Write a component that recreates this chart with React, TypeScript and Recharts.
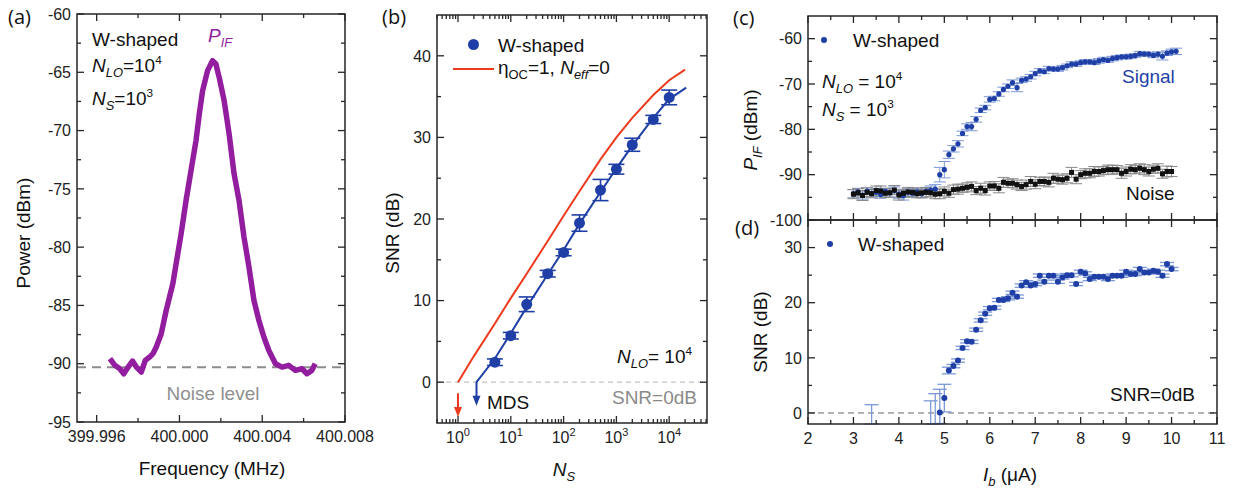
import React from "react";
import { ComposedChart, Line, Scatter, XAxis, YAxis, ErrorBar, ReferenceLine } from "recharts";

// (a) IF spectrum
const aFreq = [399.99664, 399.99688, 399.99712, 399.99731, 399.99752, 399.99773, 399.99792, 399.99816, 399.99835, 399.99856, 399.99872, 399.99888, 399.99912, 399.99936, 399.99968, 399.99984, 400.00008, 400.00032, 400.00056, 400.0008, 400.00096, 400.00112, 400.00136, 400.0016, 400.00176, 400.00192, 400.00216, 400.0024, 400.00264, 400.00288, 400.00312, 400.00336, 400.0036, 400.00384, 400.00408, 400.00432, 400.00464, 400.00496, 400.00528, 400.0056, 400.00592, 400.00616, 400.0064, 400.00656];
const aPower = [-89.57, -90.14, -90.43, -90.86, -90.29, -89.77, -90.29, -90.71, -89.71, -89.43, -89.14, -88.57, -87.43, -85.43, -83.14, -81.43, -78.86, -76.0, -73.43, -70.86, -68.57, -66.57, -64.86, -64.0, -64.29, -65.43, -67.43, -70.29, -73.71, -76.0, -79.14, -81.71, -84.57, -86.29, -87.71, -88.86, -90.0, -90.29, -90.14, -90.57, -90.43, -90.86, -90.57, -90.0];
const aNoiseLevel = -90.3;
const aFreqTicks = [399.996, 399.998, 400.0, 400.002, 400.004, 400.006, 400.008];
const aPowerTicks = [-95, -92.5, -90, -87.5, -85, -82.5, -80, -77.5, -75, -72.5, -70, -67.5, -65, -62.5, -60];

// (b) SNR vs N_S
const bNs = [5, 10, 20, 50, 100, 200, 500, 1000, 2000, 5000, 10000];
const bSnr = [2.45, 5.7, 9.55, 13.3, 15.9, 19.5, 23.55, 26.1, 29.1, 32.2, 34.9];
const bErr = [0.4, 0.4, 0.9, 0.4, 0.4, 1.0, 1.3, 0.6, 0.8, 0.5, 0.9];
const bFitN = [2.24, 2.24, 5, 10, 20, 50, 100, 200, 500, 1000, 2000, 5000, 10000, 21000];
const bFitSnr = [-2.2, 0, 2.9, 6.0, 9.2, 13.2, 16.2, 19.4, 23.3, 26.2, 29.0, 32.4, 34.7, 36.1];
const bIdealN = [1, 2, 5, 10, 20, 50, 100, 200, 500, 1000, 2000, 5000, 10000, 20000];
const bIdealSnr = [0, 3.2, 7.2, 10.3, 13.3, 17.3, 20.4, 23.4, 27.3, 30.0, 32.4, 35.2, 37.0, 38.3];
const bRedArrowN = [1, 1];
const bRedArrowSnr = [-1.35, -3.4];
const bRedTip = { x: 1, y: -4.25 };
const bBlueTip = { x: 2.24, y: -2.9 };
const bSnrTicks = [0, 5, 10, 15, 20, 25, 30, 35, 40];

// (c) P_IF vs I_b
const cIb = [3.0, 3.1, 3.2, 3.3, 3.4, 3.5, 3.6, 3.7, 3.8, 3.9, 4.0, 4.1, 4.2, 4.3, 4.4, 4.5, 4.6, 4.7, 4.8, 4.9, 5.0, 5.1, 5.2, 5.3, 5.4, 5.5, 5.6, 5.7, 5.8, 5.9, 6.0, 6.1, 6.2, 6.3, 6.4, 6.5, 6.6, 6.7, 6.8, 6.9, 7.0, 7.1, 7.2, 7.3, 7.4, 7.5, 7.6, 7.7, 7.8, 7.9, 8.0, 8.1, 8.2, 8.3, 8.4, 8.5, 8.6, 8.7, 8.8, 8.9, 9.0, 9.1, 9.2, 9.3, 9.4, 9.5, 9.6, 9.7, 9.8, 9.9, 10.0, 10.1];
const cSignal = [-94.2, -93.8, -94.5, -93.6, -94.1, -93.9, -94.4, -93.7, -94.0, -93.5, -94.3, -94.6, -93.9, -94.1, -93.8, -94.2, -93.6, -93.4, -93.2, -90.0, -88.9, -85.6, -84.3, -83.2, -80.9, -79.4, -79.4, -77.8, -75.8, -75.2, -73.4, -73.2, -72.2, -71.2, -70.5, -69.7, -70.8, -69.2, -68.9, -68.4, -67.7, -67.1, -67.3, -66.6, -66.7, -66.7, -66.4, -66.0, -65.6, -65.6, -65.3, -65.1, -65.1, -65.3, -64.9, -64.6, -64.8, -64.4, -64.2, -64.0, -64.0, -63.9, -63.7, -63.3, -63.4, -63.4, -63.7, -63.4, -63.9, -63.2, -62.9, -62.8];
const cSignalErr = [0.9, 0.8, 0.9, 0.7, 0.8, 0.9, 0.8, 0.7, 0.9, 0.8, 0.9, 1.0, 0.8, 0.9, 0.8, 0.9, 0.8, 0.9, 1.0, 1.6, 1.8, 0.8, 0.7, 0.7, 0.5, 0.6, 0.9, 0.6, 0.5, 0.5, 0.6, 0.5, 0.5, 0.5, 0.5, 0.6, 0.9, 0.5, 0.5, 0.5, 0.5, 0.5, 0.4, 0.5, 0.4, 0.5, 0.5, 0.4, 0.5, 0.5, 0.4, 0.5, 0.5, 0.4, 0.5, 0.5, 0.4, 0.5, 0.5, 0.4, 0.5, 0.5, 0.4, 0.5, 0.5, 0.4, 0.5, 0.5, 0.8, 0.5, 0.6, 0.7];
const cNoise = [-94.3, -94.0, -94.6, -93.9, -94.2, -93.5, -93.6, -94.1, -94.0, -93.4, -94.5, -94.1, -93.8, -93.9, -94.2, -94.0, -93.9, -94.0, -94.3, -94.2, -93.7, -94.1, -93.3, -93.2, -93.0, -92.8, -92.6, -93.5, -93.0, -93.5, -92.5, -92.5, -93.0, -91.7, -91.9, -91.9, -92.2, -92.6, -92.2, -91.5, -92.1, -91.5, -91.5, -91.7, -90.8, -91.0, -91.1, -90.8, -89.5, -91.0, -90.0, -89.7, -89.7, -89.3, -89.3, -89.1, -88.9, -88.9, -88.9, -89.7, -89.3, -88.8, -88.9, -88.6, -88.9, -89.3, -88.8, -88.6, -89.8, -89.3, -89.3];
const cNoiseErr = [1.0, 0.9, 1.1, 1.0, 0.9, 1.0, 1.1, 0.9, 1.0, 1.0, 1.1, 0.9, 1.0, 1.0, 0.9, 1.1, 1.0, 0.9, 1.0, 1.1, 1.0, 0.9, 1.0, 1.1, 0.9, 1.0, 1.0, 0.9, 1.1, 1.0, 0.9, 1.0, 1.0, 1.1, 0.9, 1.0, 1.0, 0.9, 1.0, 1.1, 1.0, 0.9, 1.0, 1.0, 1.1, 0.9, 1.0, 1.0, 1.1, 1.0, 0.9, 1.0, 1.0, 1.1, 1.0, 0.9, 1.0, 1.0, 0.9, 1.1, 1.0, 1.0, 0.9, 1.0, 1.1, 1.0, 0.9, 1.0, 1.0, 1.2, 1.1];
const cPowerTicks = [-100, -95, -90, -85, -80, -75, -70, -65, -60];

// (d) SNR vs I_b  (first three points are off scale: only their upper whiskers show)
const dIb = [3.4, 4.7, 4.8, 4.9, 5.0, 5.1, 5.2, 5.3, 5.4, 5.5, 5.6, 5.7, 5.8, 5.9, 6.0, 6.1, 6.2, 6.3, 6.4, 6.5, 6.6, 6.7, 6.8, 6.9, 7.0, 7.1, 7.2, 7.3, 7.4, 7.5, 7.6, 7.7, 7.8, 7.9, 8.0, 8.1, 8.2, 8.3, 8.4, 8.5, 8.6, 8.7, 8.8, 8.9, 9.0, 9.1, 9.2, 9.3, 9.4, 9.5, 9.6, 9.7, 9.8, 9.9, 10.0];
const dSnr = [-2, -2, -2, 0.1, 2.7, 7.7, 8.5, 9.5, 11.8, 13.0, 12.9, 15.1, 16.8, 18.0, 19.0, 19.1, 20.5, 20.5, 20.8, 21.8, 21.1, 23.1, 23.7, 23.1, 23.4, 24.9, 23.8, 24.9, 24.9, 23.8, 24.6, 25.0, 25.0, 23.4, 25.6, 25.3, 24.3, 24.7, 24.7, 24.7, 24.3, 24.9, 24.9, 24.9, 25.6, 25.2, 25.2, 26.1, 25.5, 25.5, 25.8, 25.6, 24.9, 27.0, 26.1];
const dErrLow = [0, 0, 0, 2.0, 2.5, 0.6, 0.3, 0.3, 0.3, 0.3, 0.3, 0.3, 0.3, 0.3, 0.3, 0.3, 0.3, 0.3, 0.3, 0.3, 0.3, 0.3, 0.3, 0.3, 0.3, 0.3, 0.3, 0.3, 0.3, 0.3, 0.3, 0.3, 0.3, 0.3, 0.3, 0.3, 0.3, 0.3, 0.3, 0.3, 0.3, 0.3, 0.3, 0.3, 0.3, 0.3, 0.3, 0.3, 0.3, 0.3, 0.3, 0.3, 0.3, 0.3, 0.3];
const dErrHigh = [3.5, 4.2, 5.5, 4.2, 2.5, 0.6, 0.3, 0.3, 0.3, 0.3, 0.3, 0.3, 0.3, 0.3, 0.3, 0.3, 0.3, 0.3, 0.3, 0.3, 0.3, 0.3, 0.3, 0.3, 0.3, 0.3, 0.3, 0.3, 0.3, 0.3, 0.3, 0.3, 0.3, 0.3, 0.3, 0.3, 0.3, 0.3, 0.3, 0.3, 0.3, 0.3, 0.3, 0.3, 0.3, 0.3, 0.3, 0.3, 0.3, 0.3, 0.3, 0.3, 0.3, 0.3, 0.3];
const dSnrTicks = [0, 5, 10, 15, 20, 25, 30];
const ibTicks = [2, 2.5, 3, 3.5, 4, 4.5, 5, 5.5, 6, 6.5, 7, 7.5, 8, 8.5, 9, 9.5, 10, 10.5, 11];

const zip = (xs: number[], ys: number[], es?: any[]) =>
  xs.map((x, i) => ({ x, y: ys[i], e: es ? es[i] : 0 }));

const logTicks: number[] = [];
[0.1, 1, 10, 100, 1000, 10000].forEach((d) => {
  for (let k = 1; k <= 9; k++) {
    const v = +(d * k).toPrecision(3);
    if (v >= 0.4 && v <= 52000) logTicks.push(v);
  }
});

const FRAME = "#262626";
const PURPLE = "#921e9f";
const BLUE = "#1f3fa6";
const RED = "#ee3a1c";
const TICK_FONT = "'Liberation Sans', Arial, sans-serif";
const GAP = 6;

const ids = { xAxisId: "b", yAxisId: "l" };
const nearMult = (v: number, m: number) => Math.abs(v / m - Math.round(v / m)) < 1e-6;

type Dom = [number, number];
type FrameCfg = { xDomain: Dom; xTicks: number[]; yDomain: Dom; yTicks: number[]; xMajor: (v: number) => boolean; yMajor: (v: number) => boolean };

function labelTick(side: "left" | "bottom", isMajor: (v: number) => boolean, label?: (v: number) => React.ReactNode) {
  return (p: any) => {
    const { x, y, payload } = p;
    const v = payload.value;
    if (!label || !isMajor(v)) return <g />;
    if (side === "left")
      return <text x={x} y={y} dy="0.36em" textAnchor="end" fontSize={16} fill="#222" fontFamily={TICK_FONT}>{label(v)}</text>;
    return <text x={x} y={y + 14} textAnchor="middle" fontSize={16} fill="#222" fontFamily={TICK_FONT}>{label(v)}</text>;
  };
}

function renderAxes(o: FrameCfg & { xLabel?: (v: number) => React.ReactNode; yLabel: (v: number) => React.ReactNode; log?: boolean; bottomHeight: number }) {
  const common = { type: "number" as const, interval: 0 as const, tickSize: 0, tickMargin: GAP, axisLine: false, tickLine: false };
  return [
    <XAxis key="xb" xAxisId="b" orientation="bottom" dataKey="x" height={o.bottomHeight} domain={o.xDomain} ticks={o.xTicks} scale={o.log ? "log" : "linear"} tick={labelTick("bottom", o.xMajor, o.xLabel)} {...common} />,
    <YAxis key="yl" yAxisId="l" orientation="left" dataKey="y" width={60} domain={o.yDomain} ticks={o.yTicks} tick={labelTick("left", o.yMajor, o.yLabel)} {...common} />,
  ];
}

// inward tick marks drawn as little symbols sitting on the frame edges
const TickMark = (p: any) => {
  const d = p.payload ?? p;
  const len = d.len as number;
  const { cx, cy } = p;
  let x2 = cx, y2 = cy;
  if (d.dir === "up") y2 = cy - len;
  else if (d.dir === "down") y2 = cy + len;
  else if (d.dir === "right") x2 = cx + len;
  else x2 = cx - len;
  return <line x1={cx} y1={cy} x2={x2} y2={y2} stroke={FRAME} strokeWidth={1.3} />;
};

function renderFrame(o: FrameCfg) {
  const [x0, x1] = o.xDomain;
  const [y0, y1] = o.yDomain;
  const marks: any[] = [];
  o.xTicks.forEach((v) => {
    const len = o.xMajor(v) ? 7 : 4;
    marks.push({ x: v, y: y0, dir: "up", len }, { x: v, y: y1, dir: "down", len });
  });
  o.yTicks.forEach((v) => {
    const len = o.yMajor(v) ? 7 : 4;
    marks.push({ x: x0, y: v, dir: "right", len }, { x: x1, y: v, dir: "left", len });
  });
  const box = [{ x: x0, y: y0 }, { x: x1, y: y0 }, { x: x1, y: y1 }, { x: x0, y: y1 }, { x: x0, y: y0 }];
  return [
    <Line key="frame" {...ids} data={box} dataKey="y" type="linear" stroke={FRAME} strokeWidth={1.5} strokeLinecap="square" dot={false} isAnimationActive={false} />,
    <Scatter key="marks" {...ids} data={marks} dataKey="y" shape={TickMark} isAnimationActive={false} />,
  ];
}

const sub: React.CSSProperties = { fontSize: "0.68em", verticalAlign: "-0.35em" };
const sup: React.CSSProperties = { fontSize: "0.62em", verticalAlign: "0.65em" };

function Txt(props: { x: number; y: number; size?: number; color?: string; anchor?: "start" | "middle" | "end"; rotate?: boolean; font?: string; children: React.ReactNode }) {
  const { x, y, size = 19, color = "#111", anchor = "start", rotate = false, font, children } = props;
  const tx = anchor === "middle" || rotate ? "-50%" : anchor === "end" ? "-100%" : "0";
  return (
    <div style={{ position: "absolute", left: x, top: y, transform: `translate(${tx},-50%)${rotate ? " rotate(-90deg)" : ""}`, fontSize: size, color, whiteSpace: "nowrap", lineHeight: 1, fontFamily: font || TICK_FONT, pointerEvents: "none" }}>
      {children}
    </div>
  );
}

function Dot(r: number, fill: string, yMin = -Infinity) {
  return (p: any) => {
    const d = p.payload ?? p;
    if (d.y <= yMin) return <g />;
    return <circle cx={p.cx} cy={p.cy} r={r} fill={fill} />;
  };
}
function Square(s: number, fill: string) {
  return (p: any) => <rect x={p.cx - s / 2} y={p.cy - s / 2} width={s} height={s} fill={fill} />;
}
function ArrowHead(fill: string) {
  return (p: any) => <polygon points={`${p.cx},${p.cy} ${p.cx - 4},${p.cy - 10} ${p.cx + 4},${p.cy - 10}`} fill={fill} />;
}

function PanelA() {
  const data = zip(aFreq, aPower);
  const cfg: FrameCfg = {
    xDomain: [399.99505, 400.008], xTicks: aFreqTicks, yDomain: [-95, -60], yTicks: aPowerTicks,
    xMajor: (v) => nearMult(Math.round((v - 399.996) * 1e6), 4000), yMajor: (v) => nearMult(v, 5),
  };
  return (
    <div style={{ position: "absolute", left: 0, top: 0, width: 400, height: 492 }}>
      <ComposedChart width={400} height={492} margin={{ top: 14, right: 55, bottom: 30, left: 17 }}>
        {renderAxes({ ...cfg, xLabel: (v) => v.toFixed(3), yLabel: (v) => String(v), bottomHeight: 40 })}
        <ReferenceLine {...ids} y={aNoiseLevel} stroke="#8c8c8c" strokeWidth={2} strokeDasharray="9 6" />
        <Line {...ids} data={data} dataKey="y" type="linear" stroke={PURPLE} strokeWidth={5.5} strokeLinejoin="round" dot={false} isAnimationActive={false} />
        {renderFrame(cfg)}
      </ComposedChart>
      <Txt x={8} y={17} size={20} font="'Open Sans', sans-serif">(a)</Txt>
      <Txt x={92} y={39}>W-shaped</Txt>
      <Txt x={92} y={67}><i>N</i><span style={sub}><i>LO</i></span>=10<span style={sup}>4</span></Txt>
      <Txt x={92} y={100}><i>N</i><span style={sub}><i>S</i></span>=10<span style={sup}>3</span></Txt>
      <Txt x={208} y={38} color={PURPLE}><i>P</i><span style={sub}><i>IF</i></span></Txt>
      <Txt x={213} y={393} anchor="middle" color="#8f8f8f">Noise level</Txt>
      <Txt x={23} y={233} rotate>Power (dBm)</Txt>
      <Txt x={212} y={468} anchor="middle">Frequency (MHz)</Txt>
    </div>
  );
}

function PanelB() {
  const pts = zip(bNs, bSnr, bErr);
  const fit = zip(bFitN, bFitSnr);
  const ideal = zip(bIdealN, bIdealSnr);
  const redArrow = zip(bRedArrowN, bRedArrowSnr);
  const logLabel = (v: number) => (
    <>
      <tspan>10</tspan>
      <tspan dy={-7} fontSize={11}>{Math.round(Math.log10(v))}</tspan>
    </>
  );
  const cfg: FrameCfg = {
    xDomain: [0.4, 52000], xTicks: logTicks, yDomain: [-5, 45], yTicks: bSnrTicks,
    xMajor: (v) => nearMult(Math.log10(v), 1), yMajor: (v) => nearMult(v, 10),
  };
  return (
    <div style={{ position: "absolute", left: 360, top: 0, width: 360, height: 492 }}>
      <ComposedChart width={360} height={492} margin={{ top: 15, right: 13, bottom: 29, left: 17 }}>
        {renderAxes({ ...cfg, log: true, xLabel: logLabel, yLabel: (v) => String(v), bottomHeight: 40 })}
        <ReferenceLine {...ids} y={0} stroke="#c4c4c4" strokeWidth={1.2} strokeDasharray="5 4" />
        <Line {...ids} data={ideal} dataKey="y" type="linear" stroke={RED} strokeWidth={2} dot={false} isAnimationActive={false} />
        <Line {...ids} data={redArrow} dataKey="y" type="linear" stroke={RED} strokeWidth={2} dot={false} isAnimationActive={false} />
        <Scatter {...ids} data={[bRedTip]} dataKey="y" shape={ArrowHead(RED)} isAnimationActive={false} />
        <Line {...ids} data={fit} dataKey="y" type="linear" stroke={BLUE} strokeWidth={2} dot={false} isAnimationActive={false} />
        <Scatter {...ids} data={[bBlueTip]} dataKey="y" shape={ArrowHead(BLUE)} isAnimationActive={false} />
        <Scatter {...ids} data={pts} dataKey="y" shape={Dot(5.5, BLUE)} isAnimationActive={false}>
          <ErrorBar dataKey="e" direction="y" width={8} stroke={BLUE} strokeWidth={1.6} />
        </Scatter>
        {renderFrame(cfg)}
      </ComposedChart>
      <Txt x={22} y={17} size={20} font="'Open Sans', sans-serif">(b)</Txt>
      <div style={{ position: "absolute", left: 108, top: 39, width: 11, height: 11, borderRadius: 6, background: BLUE }} />
      <Txt x={138} y={45}>W-shaped</Txt>
      <div style={{ position: "absolute", left: 93, top: 68, width: 41, height: 2, background: RED }} />
      <Txt x={138} y={70}>η<span style={sub}>OC</span>=1, <i>N</i><span style={sub}><i>eff</i></span>=0</Txt>
      <Txt x={332} y={358} anchor="end"><i>N</i><span style={sub}><i>LO</i></span>= 10<span style={sup}>4</span></Txt>
      <Txt x={127} y={402}>MDS</Txt>
      <Txt x={337} y={397} anchor="end" color="#8a8a8a">SNR=0dB</Txt>
      <Txt x={32} y={233} rotate>SNR (dB)</Txt>
      <Txt x={204} y={472} anchor="middle"><i>N</i><span style={sub}><i>S</i></span></Txt>
    </div>
  );
}

function PanelC() {
  const sig = zip(cIb, cSignal, cSignalErr);
  const noise = zip(cIb.slice(0, cNoise.length), cNoise, cNoiseErr);
  const cfg: FrameCfg = {
    xDomain: [2, 11], xTicks: ibTicks, yDomain: [-100, -55], yTicks: cPowerTicks,
    xMajor: (v) => nearMult(v, 1), yMajor: (v) => nearMult(v, 10),
  };
  return (
    <div style={{ position: "absolute", left: 720, top: 0, width: 522, height: 230 }}>
      <ComposedChart width={522} height={230} margin={{ top: 16, right: 25, bottom: 10, left: 28 }}>
        {renderAxes({ ...cfg, yLabel: (v) => String(v), bottomHeight: 0 })}
        <Scatter {...ids} data={sig} dataKey="y" shape={Dot(2.6, BLUE)} isAnimationActive={false}>
          <ErrorBar dataKey="e" direction="y" width={6} stroke="#7c98d6" strokeWidth={1} />
        </Scatter>
        <Scatter {...ids} data={noise} dataKey="y" shape={Square(5, "#111")} isAnimationActive={false}>
          <ErrorBar dataKey="e" direction="y" width={6} stroke="#8a8a8a" strokeWidth={1} />
        </Scatter>
        {renderFrame(cfg)}
      </ComposedChart>
      <Txt x={13} y={18} size={20} font="'Open Sans', sans-serif">(c)</Txt>
      <div style={{ position: "absolute", left: 101, top: 37, width: 6, height: 6, borderRadius: 3, background: BLUE }} />
      <Txt x={133} y={40}>W-shaped</Txt>
      <Txt x={102} y={83}><i>N</i><span style={sub}><i>LO</i></span> = 10<span style={sup}>4</span></Txt>
      <Txt x={102} y={111}><i>N</i><span style={sub}><i>S</i></span> = 10<span style={sup}>3</span></Txt>
      <Txt x={402} y={76} color={BLUE}>Signal</Txt>
      <Txt x={406} y={193}>Noise</Txt>
      <Txt x={33} y={130} rotate><i>P</i><span style={sub}><i>IF</i></span> (dBm)</Txt>
    </div>
  );
}

function PanelD() {
  const errs = dErrLow.map((lo, i) => [lo, dErrHigh[i]]);
  const pts = zip(dIb, dSnr, errs);
  const cfg: FrameCfg = {
    xDomain: [2, 11], xTicks: ibTicks, yDomain: [-2, 35], yTicks: dSnrTicks,
    xMajor: (v) => nearMult(v, 1), yMajor: (v) => nearMult(v, 10),
  };
  return (
    <div style={{ position: "absolute", left: 720, top: 210, width: 522, height: 282 }}>
      <ComposedChart width={522} height={282} margin={{ top: 10, right: 25, bottom: 28, left: 28 }}>
        {renderAxes({ ...cfg, xLabel: (v) => String(v), yLabel: (v) => String(v), bottomHeight: 40 })}
        <ReferenceLine {...ids} y={0} stroke="#666" strokeWidth={1} strokeDasharray="6 4" />
        <Scatter {...ids} data={pts} dataKey="y" shape={Dot(3, BLUE, -2)} isAnimationActive={false}>
          <ErrorBar dataKey="e" direction="y" width={7} stroke="#7c98d6" strokeWidth={1.3} />
        </Scatter>
        {renderFrame(cfg)}
      </ComposedChart>
      <Txt x={15} y={18} size={20} font="'Open Sans', sans-serif">(d)</Txt>
      <div style={{ position: "absolute", left: 107, top: 31, width: 6, height: 6, borderRadius: 3, background: BLUE }} />
      <Txt x={138} y={34}>W-shaped</Txt>
      <Txt x={390} y={184}>SNR=0dB</Txt>
      <Txt x={40} y={122} rotate>SNR (dB)</Txt>
      <Txt x={290} y={267} anchor="middle"><i>I</i><span style={sub}><i>b</i></span> (μA)</Txt>
    </div>
  );
}

export default function App() {
  return (
    <div style={{ position: "absolute", left: 0, top: 0, width: 1242, height: 492, background: "#fff", overflow: "hidden", fontFamily: TICK_FONT }}>
      <PanelA />
      <PanelB />
      <PanelC />
      <PanelD />
    </div>
  );
}
